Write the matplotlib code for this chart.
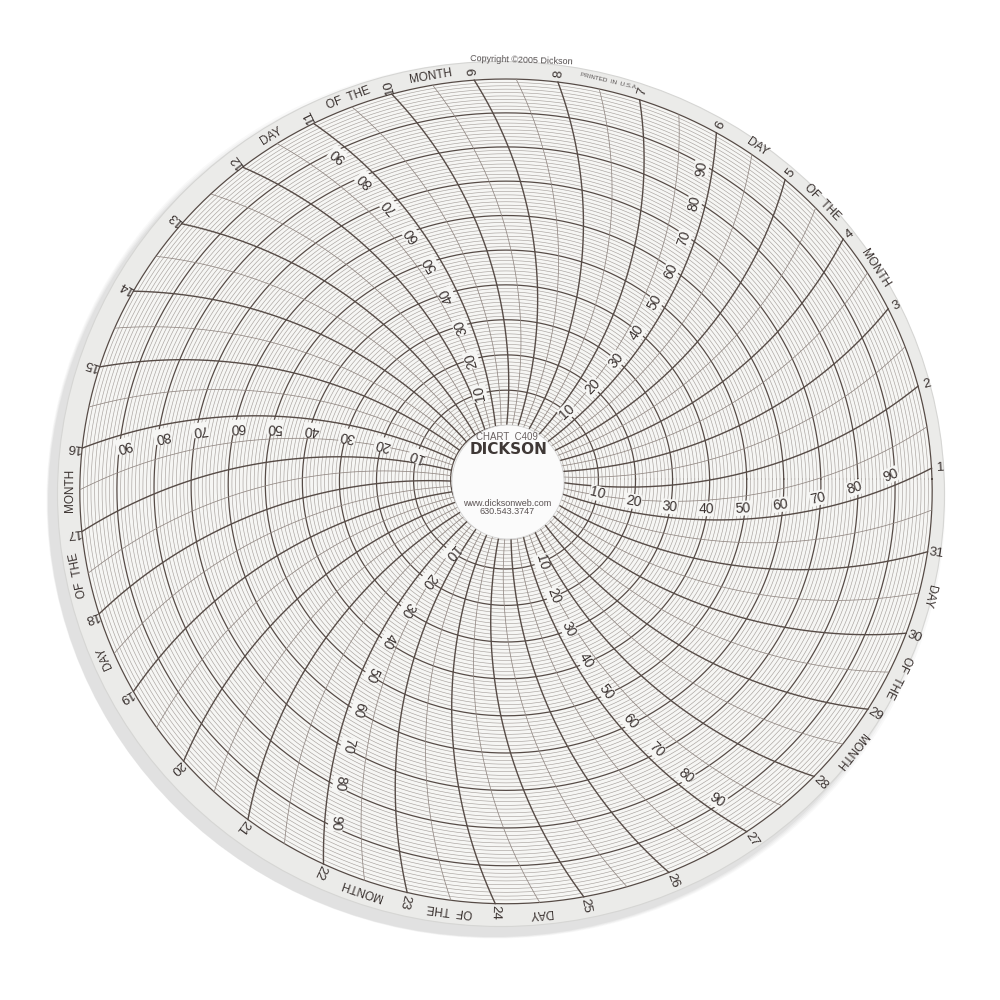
import numpy as np
import matplotlib
matplotlib.use("Agg")
import matplotlib.pyplot as plt
from matplotlib.patches import Ellipse

# chart content
days = list(range(1, 32))
scale_values = list(range(0, 101))
scale_labels = [10, 20, 30, 40, 50, 60, 70, 80, 90]
label_days = [1, 6, 11, 16, 22, 27]
word_day = [(6, 5), (12, 11), (19, 18), (25, 24), (31, 30)]
word_ofthe = [(5, 4), (11, 10), (18, 17), (24, 23), (30, 29)]
word_month = [(4, 3), (10, 9), (17, 16), (23, 22), (29, 28)]
hub_text = ["CHART  C409", "DICKSON", "www.dicksonweb.com", "630.543.3747"]

# geometry (pixel space, y up); slight tilt of the disc in the photo
CX, CY = 506, 521
A, B = 426, 412
K = 0.03
START = 1.5
STEP = 360.0 / 31
R0 = 0.13
PIV_D = 1.1
PIV_K = 0.04

DARK = "#564b46"
FINE = "#a8a29e"
MID = "#918782"
TXT = "#3a3230"
GRID_BG = "#f6f6f4"


def ring_r(v):
    return R0 + (1 - R0) * v / 100.0


def alpha(r):
    return np.degrees(np.arccos((r ** 2 + PIV_K) / (2 * r * PIV_D)))


def line_angle(dpos, r):
    return START + (dpos - 1) * STEP - (alpha(r) - alpha(1.0))


def to_xy(r, ang):
    a = np.radians(ang)
    u = r * np.cos(a)
    v = r * np.sin(a)
    s = 1.0 / (1.0 + K * v)
    return CX + A * u * s, CY + B * v * s


def tangent_deg(r, ang):
    x0, y0 = to_xy(r, ang - 0.2)
    x1, y1 = to_xy(r, ang + 0.2)
    return np.degrees(np.arctan2(y1 - y0, x1 - x0))


fig = plt.figure(figsize=(10, 10), dpi=100)
ax = fig.add_axes([0, 0, 1, 1])
ax.set_xlim(0, 1000)
ax.set_ylim(0, 1000)
ax.axis("off")
fig.patch.set_facecolor("white")

# shadow and paper
for i, a in enumerate([0.04, 0.05, 0.06, 0.07]):
    ax.add_patch(Ellipse((496 - i, 500 - i), 887 + 12 - 3 * i, 865 + 12 - 3 * i,
                         facecolor="#707070", edgecolor="none", alpha=a, zorder=0))
ax.add_patch(Ellipse((501, 506), 887, 865, facecolor="#ebebe9", edgecolor="#d6d6d4",
                     lw=0.8, zorder=1))
t = np.linspace(0, 360, 721)
bx, by = to_xy(1.0, t)
ax.fill(bx, by, color=GRID_BG, zorder=1)

# rings
for v in scale_values:
    x, y = to_xy(ring_r(v), t)
    if v % 10 == 0:
        ax.plot(x, y, color=DARK, lw=0.9, zorder=3)
    else:
        ax.plot(x, y, color=FINE, lw=0.45, zorder=2)

# time lines
rr = np.linspace(R0, 1.0, 200)
for d in days:
    x, y = to_xy(rr, line_angle(d, rr))
    ax.plot(x, y, color=DARK, lw=1.0, zorder=4)
    x, y = to_xy(rr, line_angle(d + 0.5, rr))
    ax.plot(x, y, color=MID, lw=0.55, zorder=3)

# scale labels along selected day lines
for ld in label_days:
    for v in scale_labels:
        r = ring_r(v)
        x0, y0 = to_xy(r, line_angle(ld, r))
        x1, y1 = to_xy(r + 0.005, line_angle(ld, r + 0.005))
        dx, dy = x1 - x0, y1 - y0
        n = np.hypot(dx, dy)
        dx, dy = dx / n, dy / n
        rot = np.degrees(np.arctan2(dy, dx))
        off = 11
        ax.text(x0 - dy * off, y0 + dx * off, str(v), rotation=rot,
                rotation_mode="anchor", ha="center", va="center",
                fontsize=10, color=TXT, family="Liberation Sans", zorder=6,
                bbox=dict(facecolor=GRID_BG, edgecolor="none", pad=0.3))

# rim day numbers
for d in days:
    ang = START + (d - 1) * STEP
    x, y = to_xy(1.021, ang)
    ax.text(x, y, str(d), rotation=tangent_deg(1.021, ang) - 90, rotation_mode="anchor",
            ha="center", va="center", fontsize=9.5, color=TXT,
            family="Liberation Sans", zorder=6)

# rim words
for pairs, word in [(word_day, "DAY"), (word_ofthe, "OF  THE"), (word_month, "MONTH")]:
    for a, b in pairs:
        ang = START + ((a + b) / 2.0 - 1) * STEP
        x, y = to_xy(1.023, ang)
        ax.text(x, y, word, rotation=tangent_deg(1.023, ang) - 180, rotation_mode="anchor",
                ha="center", va="center", fontsize=8.5, color=TXT,
                family="Liberation Sans", zorder=6)

# small print on rim
x, y = to_xy(1.05, 88.0)
ax.text(x, y, "Copyright \u00a92005 Dickson", rotation=tangent_deg(1.05, 88.0) - 180,
        rotation_mode="anchor", ha="center", va="center", fontsize=6.5,
        color="#555050", family="Liberation Sans", zorder=6)
x, y = to_xy(1.025, 76.0)
ax.text(x, y, "PRINTED  IN  U.S.A.", rotation=tangent_deg(1.025, 76.0) - 180,
        rotation_mode="anchor", ha="center", va="center", fontsize=4.5,
        color="#555050", family="Liberation Sans", zorder=6)

# hub
ax.add_patch(Ellipse((508, 518), 112, 114, facecolor="#fbfbfb", edgecolor="#d4d4d4",
                     lw=0.6, zorder=7))
ax.text(507, 563, hub_text[0], ha="center", va="center", fontsize=7,
        color="#6a6262", family="Liberation Sans", zorder=8)
ax.text(509, 550, hub_text[1], ha="center", va="center", fontsize=11,
        fontweight="bold", color="#3f3836", family="DejaVu Sans", zorder=8)
ax.text(507, 497, hub_text[2], ha="center", va="center", fontsize=6.5,
        color="#5a5252", family="Liberation Sans", zorder=8)
ax.text(507, 488, hub_text[3], ha="center", va="center", fontsize=6.5,
        color="#5a5252", family="Liberation Sans", zorder=8)

fig.savefig("out.png", dpi=100, facecolor="white")
